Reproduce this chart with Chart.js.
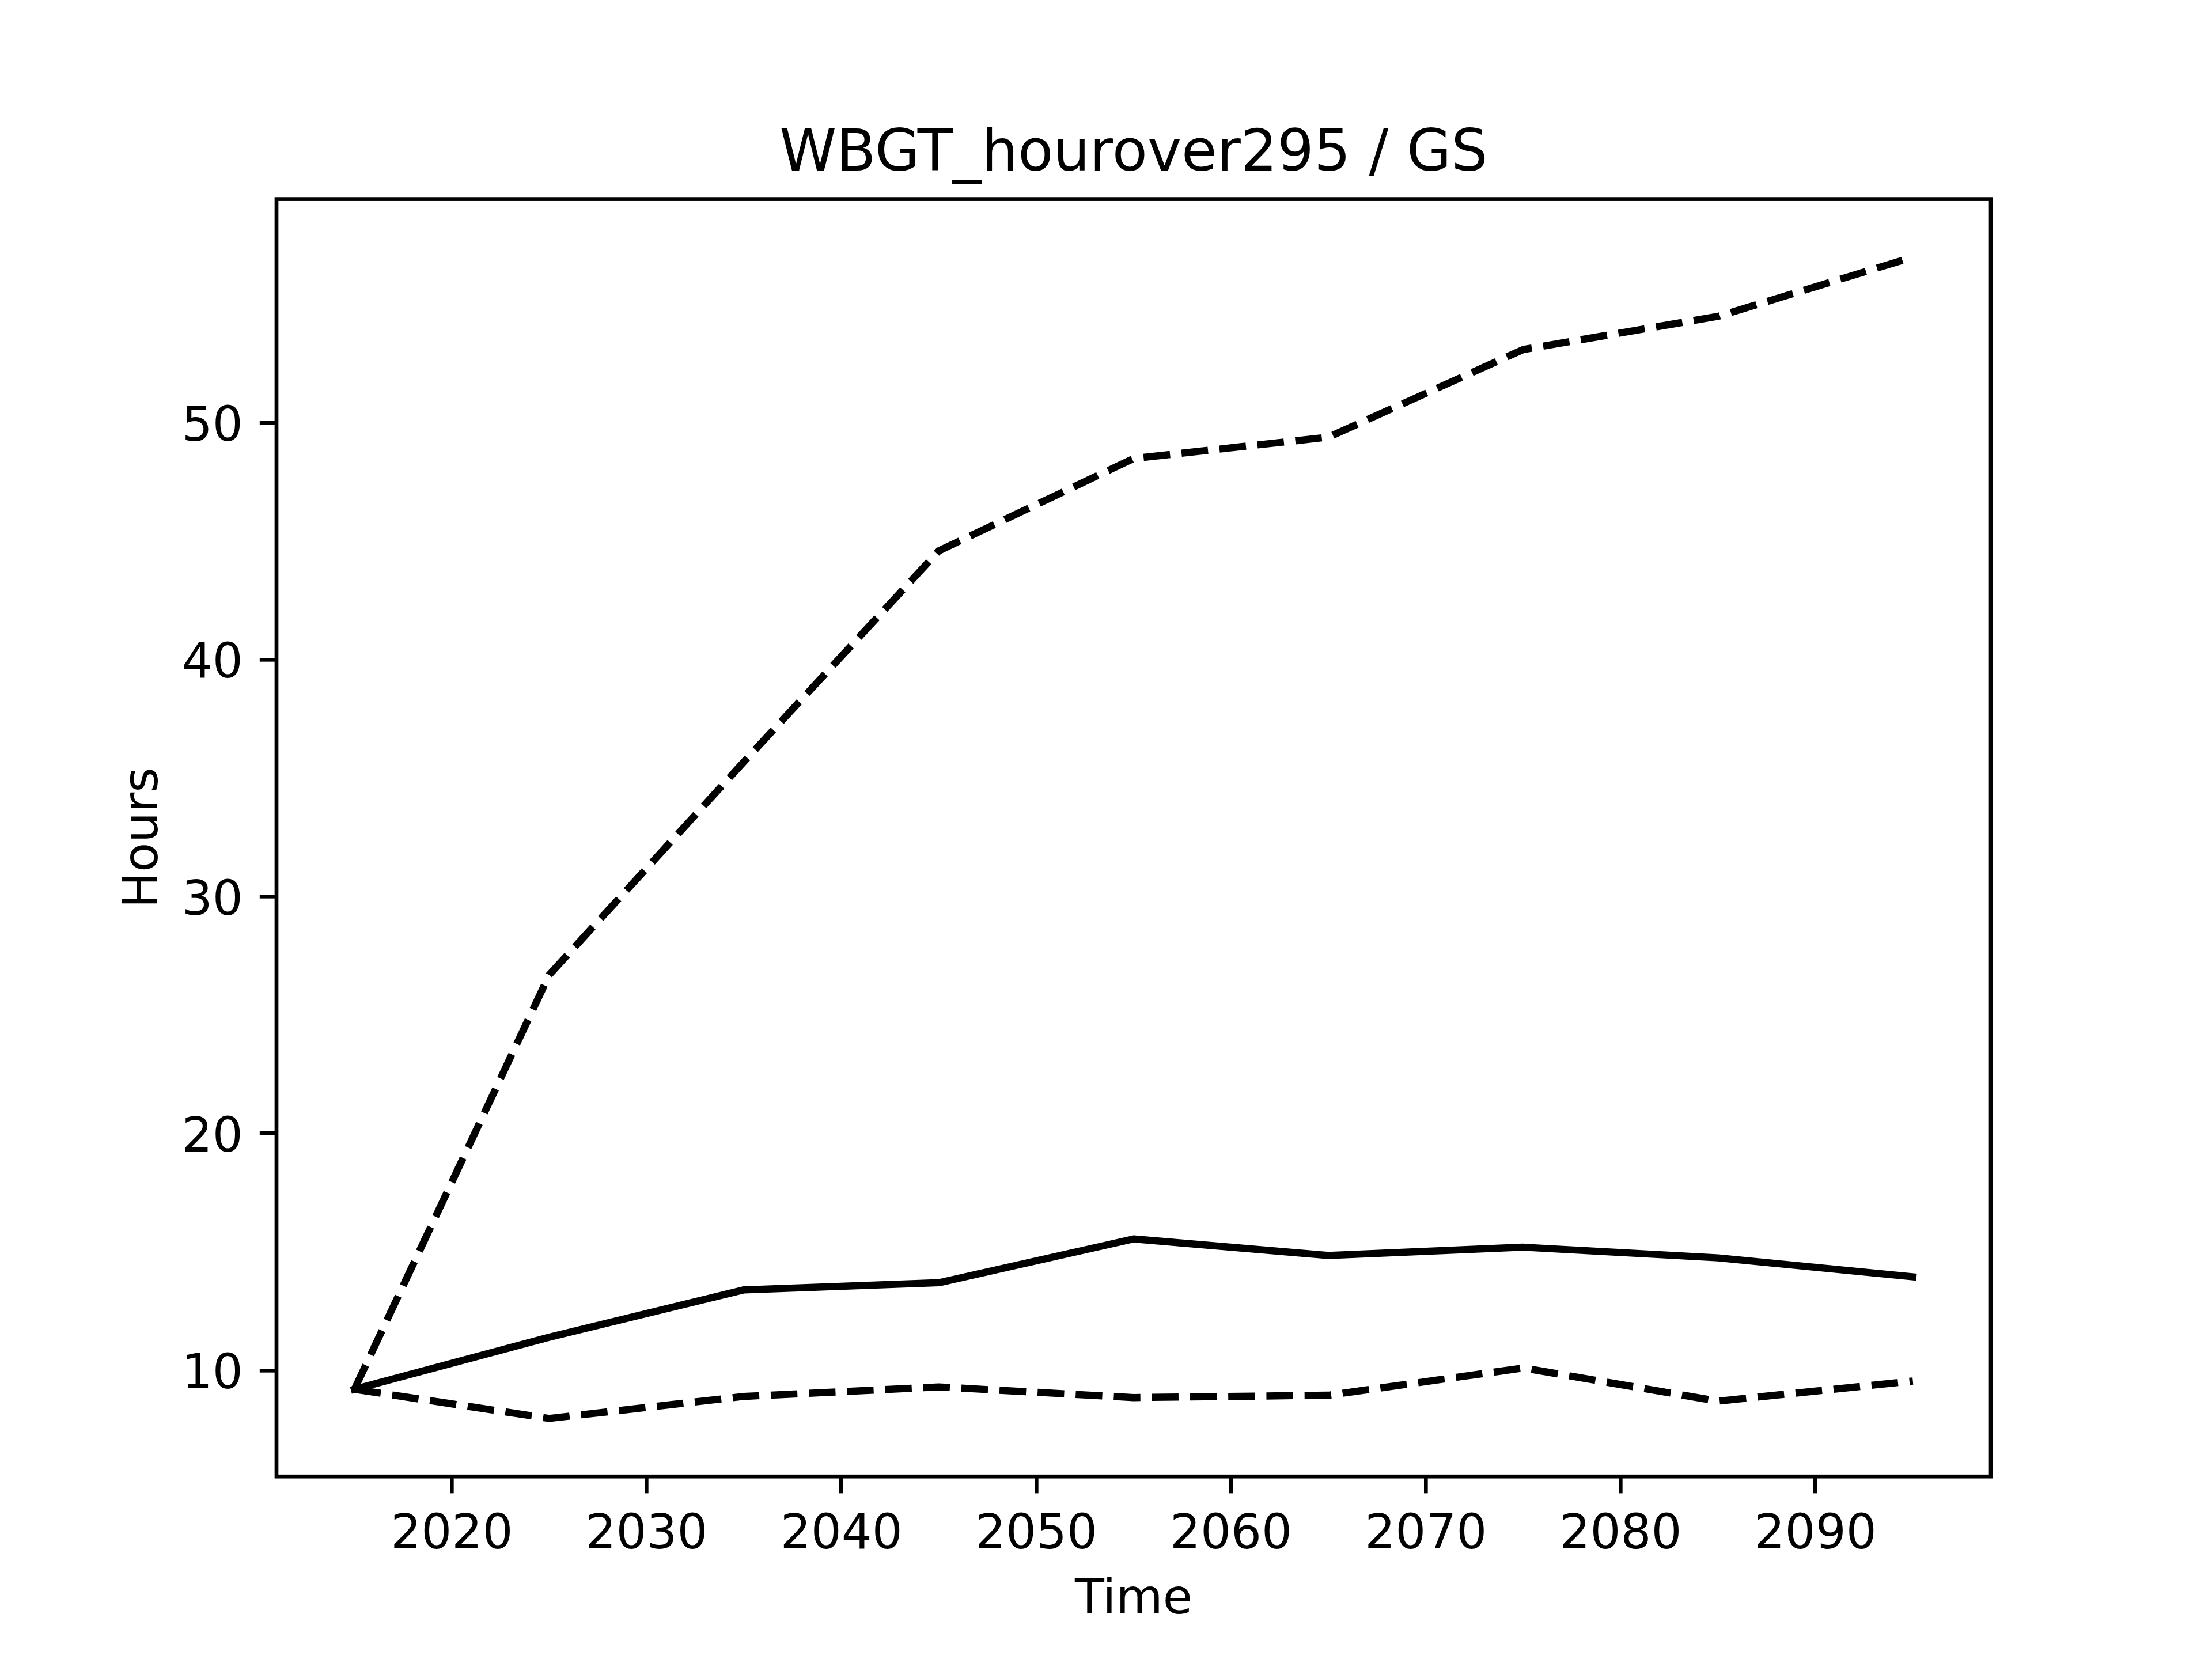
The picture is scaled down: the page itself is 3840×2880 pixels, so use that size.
<!DOCTYPE html>
<html>
<head>
<meta charset="utf-8">
<script src="https://cdn.jsdelivr.net/npm/chart.js@4/dist/chart.umd.min.js"></script>
<style>
  html, body { margin: 0; padding: 0; background: #fff; }
  #wrap { width: 3840px; height: 2880px; position: relative; }
</style>
</head>
<body>
<div id="wrap"><canvas id="chart"></canvas></div>
<script>
// ── Data ─────────────────────────────────────────────────────────
const years      = [2015, 2025, 2035, 2045, 2055, 2065, 2075, 2085, 2095];
const hoursMean  = [9.2, 11.4, 13.4, 13.7, 15.55, 14.85, 15.2, 14.75, 13.95];
const hoursLow   = [9.2, 7.97, 8.9, 9.3, 8.85, 8.95, 10.1, 8.7, 9.55];
const hoursHigh  = [9.2, 26.7, 35.7, 44.6, 48.5, 49.4, 53.1, 54.5, 57.0];
const xTicks     = [2020, 2030, 2040, 2050, 2060, 2070, 2080, 2090];
const yTicks     = [10, 20, 30, 40, 50];

// ── Look (matplotlib points -> px at 600 dpi) ───────────────────
const pt       = 600 / 72;
const lw       = 1.5 * pt;
const spineW   = 0.8 * pt;
const tickLen  = 3.5 * pt;
const family   = 'DejaVu Sans';
const smallPx  = 10 * pt;
const bigPx    = 12 * pt;
const W = 3840, H = 2880;
const area = { left: 0.125 * W, right: 0.9 * W, top: 0.12 * H, bottom: 0.89 * H };

// canvas 'middle' vs alphabetic baseline, so text sits where matplotlib puts it
function metrics(px) {
    const c = document.createElement('canvas').getContext('2d');
    c.font = px + 'px "' + family + '"';
    c.textBaseline = 'alphabetic';
    const a = c.measureText('0');
    c.textBaseline = 'middle';
    const m = c.measureText('0');
    return {
        base: a.actualBoundingBoxAscent - m.actualBoundingBoxAscent,           // baseline below middle
        glyphMid: (m.actualBoundingBoxAscent - m.actualBoundingBoxDescent) / 2 // digit centre above middle
    };
}
const mS = metrics(smallPx), mB = metrics(bigPx);
const lhS = 1.2 * smallPx, lhB = 1.2 * bigPx;

// baselines
const titleBase  = area.top - 6 * pt;
const xTickBase  = area.bottom + 125;
const xTitleBase = H - 79;
const yTitleBase = 273;

const titleTop   = titleBase - mB.base - lhB / 2;
const titlePad   = { top: titleTop, bottom: area.top - titleTop - lhB };
const xTickPad   = xTickBase - mS.base - lhS / 2 - area.bottom - tickLen;
const xTitlePad  = H - (xTitleBase - mS.base) - lhS / 2;
const yTitlePad  = (yTitleBase - mS.base) - lhS / 2;

// axis limits with 5% margins, like matplotlib autoscale
function padRange(vals) {
    const lo = Math.min(...vals), hi = Math.max(...vals), m = (hi - lo) * 0.05;
    return [lo - m, hi + m];
}
const [xMin, xMax] = padRange(years);
const [yMin, yMax] = padRange([...hoursMean, ...hoursLow, ...hoursHigh]);

const toPoints = arr => years.map((x, i) => ({ x, y: arr[i] }));

// frame round the plot area
const frame = {
    id: 'frame',
    afterDatasetsDraw(chart) {
        const { ctx, chartArea: a } = chart;
        ctx.save();
        ctx.strokeStyle = '#000';
        ctx.lineWidth = spineW;
        ctx.strokeRect(a.left, a.top, a.right - a.left, a.bottom - a.top);
        ctx.restore();
    }
};

Chart.defaults.font.family = family;
Chart.defaults.color = '#000';

const lineBase = {
    borderColor: '#000',
    borderWidth: lw,
    pointRadius: 0,
    tension: 0,
    borderJoinStyle: 'round',
};
const dash = [3.7 * lw, 1.6 * lw];

const tickGrid = {
    display: true, drawOnChartArea: false, drawTicks: true,
    tickLength: tickLen, lineWidth: spineW, tickWidth: spineW, tickColor: '#000', color: '#000'
};

new Chart(document.getElementById('chart'), {
    type: 'line',
    data: {
        datasets: [
            { ...lineBase, label: 'mean', data: toPoints(hoursMean), borderCapStyle: 'square' },
            { ...lineBase, label: 'low',  data: toPoints(hoursLow),  borderDash: dash, borderCapStyle: 'butt' },
            { ...lineBase, label: 'high', data: toPoints(hoursHigh), borderDash: dash, borderCapStyle: 'butt' },
        ]
    },
    options: {
        responsive: true,
        maintainAspectRatio: false,
        animation: false,
        layout: { padding: { top: 0, left: 0, bottom: 0, right: W - area.right } },
        plugins: {
            legend: { display: false },
            tooltip: { enabled: false },
            title: {
                display: true,
                fullSize: false,
                text: 'WBGT_hourover295 / GS',
                color: '#000',
                font: { family, size: bigPx, weight: 'normal', lineHeight: 1.2 },
                padding: titlePad
            }
        },
        scales: {
            x: {
                type: 'linear', min: xMin, max: xMax,
                afterBuildTicks: s => { s.ticks = xTicks.map(v => ({ value: v })); },
                afterFit: s => { s.height = H - area.bottom; },
                border: { display: false },
                grid: tickGrid,
                ticks: { color: '#000', padding: xTickPad, autoSkip: false, maxRotation: 0,
                         font: { family, size: smallPx, lineHeight: 1.2 }, callback: v => String(v) },
                title: { display: true, text: 'Time', color: '#000',
                         font: { family, size: smallPx, lineHeight: 1.2 }, padding: { top: 0, bottom: xTitlePad } }
            },
            y: {
                type: 'linear', min: yMin, max: yMax,
                afterBuildTicks: s => { s.ticks = yTicks.map(v => ({ value: v })); },
                afterFit: s => { s.width = area.left; },
                border: { display: false },
                grid: tickGrid,
                ticks: { color: '#000', padding: tickLen, autoSkip: false, labelOffset: mS.glyphMid,
                         font: { family, size: smallPx, lineHeight: 1.2 }, callback: v => String(v) },
                title: { display: true, text: 'Hours', color: '#000',
                         font: { family, size: smallPx, lineHeight: 1.2 }, padding: { top: yTitlePad, bottom: 0 } }
            }
        }
    },
    plugins: [frame]
});
</script>
</body>
</html>
